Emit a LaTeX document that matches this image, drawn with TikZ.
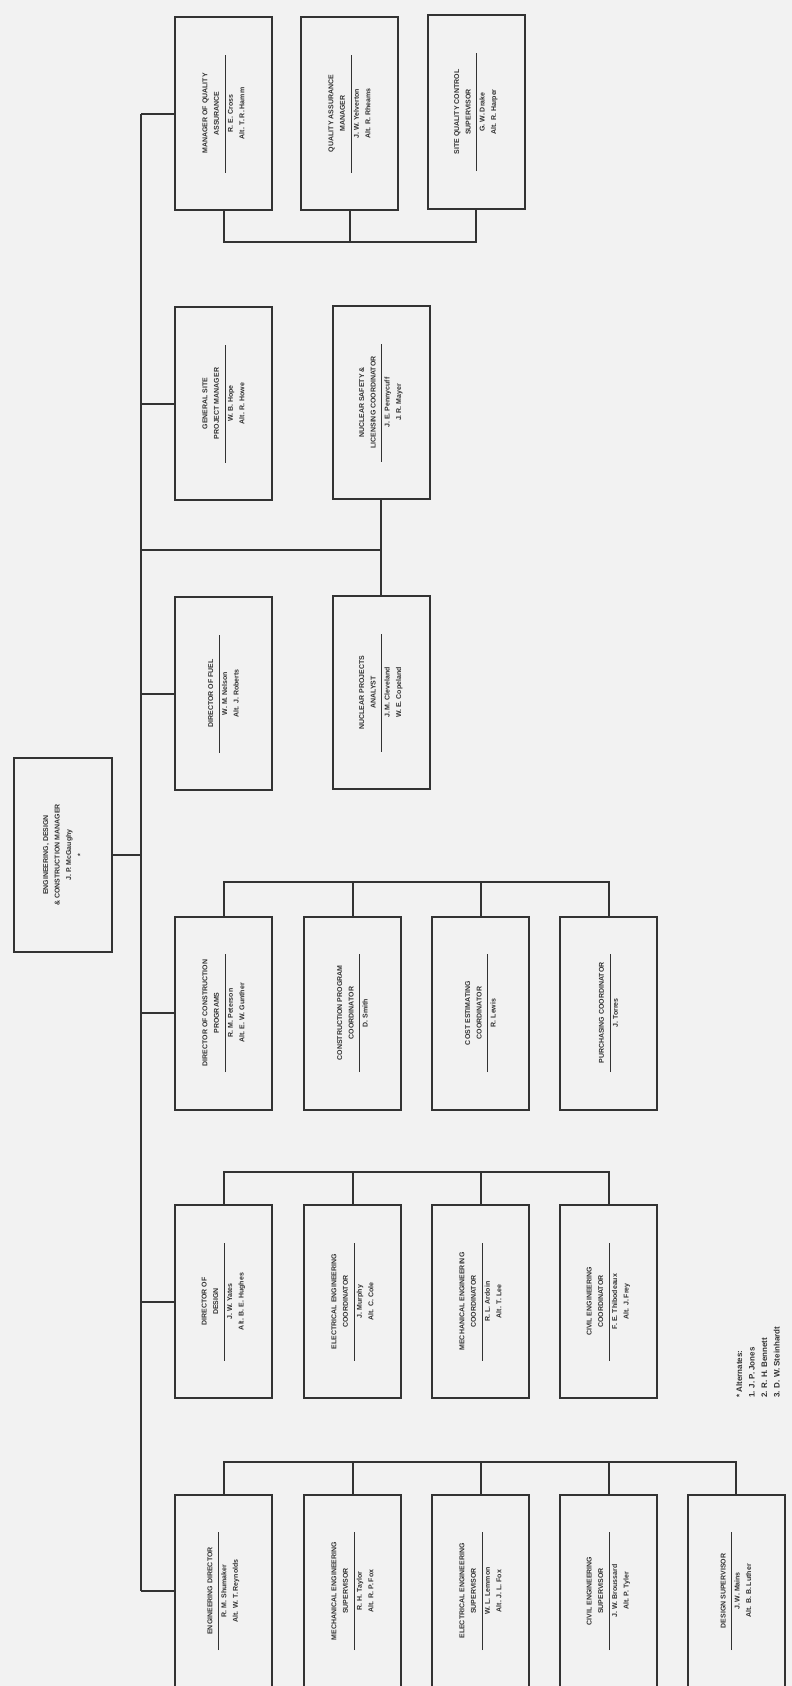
\documentclass[tikz,border=0pt]{standalone}
\usepackage{fontspec}
\setsansfont{Liberation Sans}
\begin{document}
\begin{tikzpicture}[x=1pt,y=-1pt,
  box/.style={draw=black!80, line width=2pt, minimum width=97pt, minimum height=193pt, inner sep=0pt},
  txt/.style={rotate=90, align=center, inner sep=0pt, font=\fontsize{7}{11.5}\selectfont\sffamily\bfseries, text=black!80},
  conn/.style={draw=black!80, line width=2pt}]
\newcommand\sepl{\\[-5.5pt]\rule{118pt}{0.3pt}\\[-3.5pt]}
\fill[black!5] (0,0) rectangle (792,1686);
\useasboundingbox (0,0) rectangle (792,1686);
% top box
\node[box, minimum width=98pt, minimum height=194pt] (top) at (63,855) {};
\node[txt] (topt) at (top) {ENGINEERING, DESIGN\\\& CONSTRUCTION MANAGER\\J. P. McGaughy\\*};
% group F
\node[box] (F1) at (223.5,113.5) {};
\node[box] (F2) at (349.5,113.5) {};
\node[box] (F3) at (476,112) {};
\node[txt] (F1t) at (F1) {MANAGER OF QUALITY\\ASSURANCE\sepl R. E. Cross\\Alt. T. R. Hamm};
\node[txt] (F2t) at (F2) {QUALITY ASSURANCE\\MANAGER\sepl J. W. Yelverton\\Alt. R. Rheams};
\node[txt] (F3t) at (F3) {SITE QUALITY CONTROL\\SUPERVISOR\sepl G. W. Drake\\Alt. R. Harper};
% group E
\node[box] (E1) at (223.5,403.5) {};
\node[box] (E2) at (381,402.5) {};
\node[txt] (E1t) at (E1) {GENERAL SITE\\PROJECT MANAGER\sepl W. B. Hope\\Alt. R. Howe};
\node[txt] (E2t) at (E2) {NUCLEAR SAFETY \&\\LICENSING COORDINATOR\sepl J. E. Pennycuff\\J. R. Mayer};
% group D
\node[box] (D1) at (223.5,693.5) {};
\node[box] (D2) at (381,692.5) {};
\node[txt] (D1t) at (D1) {DIRECTOR OF FUEL\sepl W. M. Nelson\\Alt. J. Roberts};
\node[txt] (D2t) at (D2) {NUCLEAR PROJECTS\\ANALYST\sepl J. M. Cleveland\\W. E. Copeland};
% group C
\node[box] (C1) at (223.5,1013) {};
\node[box] (C2) at (352.5,1013) {};
\node[box] (C3) at (480.5,1013) {};
\node[box] (C4) at (608.5,1013) {};
\node[txt] (C1t) at (C1) {DIRECTOR OF CONSTRUCTION\\PROGRAMS\sepl R. M. Peterson\\Alt. E. W. Gunther};
\node[txt] (C2t) at (C2) {CONSTRUCTION PROGRAM\\COORDINATOR\sepl D. Smith};
\node[txt] (C3t) at (C3) {COST ESTIMATING\\COORDINATOR\sepl R. Lewis};
\node[txt] (C4t) at (C4) {PURCHASING COORDINATOR\sepl J. Torres};
% group B
\node[box] (B1) at (223.5,1301.5) {};
\node[box] (B2) at (352.5,1301.5) {};
\node[box] (B3) at (480.5,1301.5) {};
\node[box] (B4) at (608.5,1301.5) {};
\node[txt] (B1t) at (B1) {DIRECTOR OF\\DESIGN\sepl J. W. Yates\\Alt. B. E. Hughes};
\node[txt] (B2t) at (B2) {ELECTRICAL ENGINEERING\\COORDINATOR\sepl J. Murphy\\Alt. C. Cole};
\node[txt] (B3t) at (B3) {MECHANICAL ENGINEERING\\COORDINATOR\sepl R. L. Ardoin\\Alt. T. Lee};
\node[txt] (B4t) at (B4) {CIVIL ENGINEERING\\COORDINATOR\sepl F. E. Thibodeaux\\Alt. J. Frey};
% group A
\node[box] (A1) at (223.5,1591) {};
\node[box] (A2) at (352.5,1591) {};
\node[box] (A3) at (480.5,1591) {};
\node[box] (A4) at (608.5,1591) {};
\node[box] (A5) at (736,1591) {};
\node[txt] (A1t) at (A1) {ENGINEERING DIRECTOR\sepl R. M. Shumaker\\Alt. W. T. Reynolds};
\node[txt] (A2t) at (A2) {MECHANICAL ENGINEERING\\SUPERVISOR\sepl R. H. Taylor\\Alt. R. P. Fox};
\node[txt] (A3t) at (A3) {ELECTRICAL ENGINEERING\\SUPERVISOR\sepl W. L. Lemmon\\Alt. J. L. Fox};
\node[txt] (A4t) at (A4) {CIVIL ENGINEERING\\SUPERVISOR\sepl J. W. Broussard\\Alt. P. Tyler};
\node[txt] (A5t) at (A5) {DESIGN SUPERVISOR\sepl J. W. Mains\\Alt. B. B. Luther};
% footnote
\node[txt, align=left, anchor=north west, font=\fontsize{8}{12.5}\selectfont\sffamily\bfseries] (note) at (736,1398) {* Alternates:\\1. J. P. Jones\\2. R. H. Bennett\\3. D. W. Steinhardt};
% connectors
\coordinate (tx) at (141,0);
\coordinate (busF) at (0,242);
\coordinate (busDE) at (141,550);
\coordinate (busC) at (0,882);
\coordinate (busB) at (0,1172);
\coordinate (busA) at (0,1462);
\draw[conn] (tx |- F1.west) -- (tx |- A1.west);
\draw[conn] (top.east) -- (tx |- top.east);
\foreach \n in {F1,E1,D1,C1,B1,A1} \draw[conn] (tx |- \n.west) -- (\n.west);
\draw[conn] (F1.south) |- (busF -| F3.south) -- (F3.south);
\draw[conn] (F2.south) -- (busF -| F2.south);
\draw[conn] (busDE) -| (E2.south);
\draw[conn] (E2.south) -- (D2.north);
\draw[conn] (C1.north) |- (busC -| C4.north) -- (C4.north);
\foreach \n in {C2,C3} \draw[conn] (\n.north) -- (busC -| \n.north);
\draw[conn] (B1.north) |- (busB -| B4.north) -- (B4.north);
\foreach \n in {B2,B3} \draw[conn] (\n.north) -- (busB -| \n.north);
\draw[conn] (A1.north) |- (busA -| A5.north) -- (A5.north);
\foreach \n in {A2,A3,A4} \draw[conn] (\n.north) -- (busA -| \n.north);
\end{tikzpicture}
\end{document}
